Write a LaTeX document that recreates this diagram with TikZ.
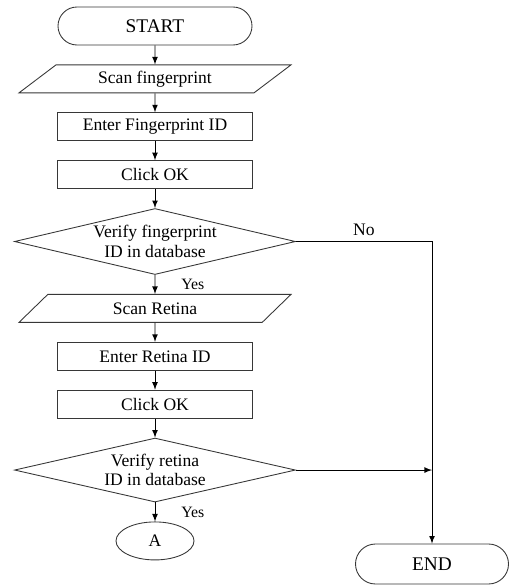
\documentclass[tikz,border=0pt]{standalone}
\usepackage{fontspec}
\setmainfont{Liberation Serif}
\usetikzlibrary{shapes,arrows}
\usetikzlibrary{positioning}
\usetikzlibrary{calc}
\definecolor{myline}{RGB}{55,55,55}
\newcommand\mydecision[4][]{%
  \node[decnode,#1,label={[align=center]center:#3\\#4}] (#2) {};
}

\begin{document}
\begin{tikzpicture}[>=latex, auto,
node distance= 0.38 cm,
line width=0.5pt,
every node/.style={font=\fontsize{10}{11}\selectfont},
termnode/.style={
  rectangle,
  rounded corners=0.38cm,
  draw=myline,
  minimum width=3.88cm,
  minimum height=0.76cm,
  text centered,
  font=\fontsize{11}{12}\selectfont},
ionode/.style={
  trapezium,
  trapezium left angle=28,
  trapezium right angle=152,
  trapezium stretches body=true,
  draw=myline,
  inner sep=1pt,
  minimum width=5.44cm,
  minimum height=0.56cm,
  text centered},
procnode/.style={
  rectangle,
  draw=myline,
  minimum width=3.9cm,
  minimum height=0.56cm,
  text centered},
decnode/.style={
  diamond,
  draw=myline,
  inner sep=0pt,
  minimum width=5.62cm,
  minimum height=1.32cm},
connnode/.style={
  ellipse,
  draw=myline,
  minimum width=1.56cm,
  minimum height=0.76cm,
  text centered},
smalllabel/.style={font=\fontsize{9}{10}\selectfont}
]
\useasboundingbox (0,0) rectangle (10.18,-11.76);
\node[termnode] (start) at (3.1,-0.52) {START};
\node[ionode, below=of start] (scanfinger) {Scan fingerprint};
\node[procnode, below=of scanfinger] (enterfinger) {Enter Fingerprint ID};
\node[procnode, below=of enterfinger] (okfinger) {Click OK};
\mydecision[below=of okfinger]{verifyfinger}{Verify fingerprint}{ID in database}
\node[ionode, below=of verifyfinger] (scanretina) {Scan Retina};
\node[procnode, below=of scanretina] (enterretina) {Enter Retina ID};
\node[procnode, below=of enterretina] (okretina) {Click OK};
\mydecision[minimum height=1.28cm, below=of okretina]{verifyretina}{Verify retina}{ID in database}
\node[connnode, below=of verifyretina] (conA) {A};
\node[termnode, minimum width=3.06cm, minimum height=0.8cm, rounded corners=0.4cm] (end) at (8.64,-11.28) {END};
\coordinate (join) at (verifyretina.east -| end.north);
\draw [->] (start) -- (scanfinger);
\draw [->] (scanfinger) -- (enterfinger);
\draw [->] (enterfinger) -- (okfinger);
\draw [->] (okfinger) -- (verifyfinger);
\draw [->] (verifyfinger) -- node [pos=0.5, right=0.4cm, smalllabel] {Yes} (scanretina);
\draw [->] (verifyfinger) -| node [pos=0.25, above] {No} (end);
\draw [->] (scanretina) -- (enterretina);
\draw [->] (enterretina) -- (okretina);
\draw [->] (okretina) -- (verifyretina);
\draw [->] (verifyretina) -- node [pos=0.5, right=0.4cm, smalllabel] {Yes} (conA);
\draw [->] (verifyretina) -- (join);
\end{tikzpicture}
\end{document}
